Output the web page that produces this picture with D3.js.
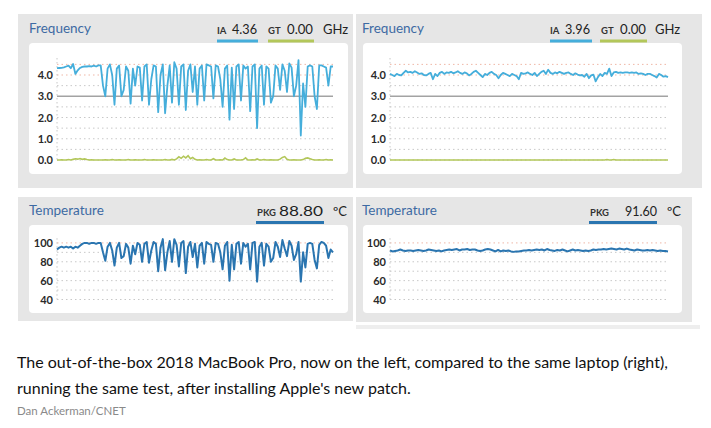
<!DOCTYPE html>
<html><head><meta charset="utf-8">
<script src="https://cdn.jsdelivr.net/npm/d3@7"></script>
<style>
html,body{margin:0;padding:0;background:#fff;}
svg{display:block;font-family:Lato,"Open Sans",sans-serif;}
</style></head><body>
<svg id="c" width="711" height="428"></svg>
<script>
// ---- data ----
const freqTicks = [0, 1, 2, 3, 4];
const freqTickLabels = ["0.0", "1.0", "2.0", "3.0", "4.0"];
const tempTicks = [40, 60, 80, 100];
const tempTickLabels = ["40", "60", "80", "100"];

const beforeIA = [4.32,4.33,4.34,4.36,4.40,4.44,4.32,4.52,4.05,4.22,4.33,4.38,4.40,4.40,4.42,4.40,4.44,4.40,4.45,
4.45,3.5,3.0,4.3,4.5,4.0,2.6,4.3,4.45,3.0,3.3,4.4,4.2,2.65,4.3,3.5,4.4,4.35,2.8,4.4,4.5,2.6,3.8,4.45,4.4,2.25,4.0,4.5,2.2,3.5,4.45,
2.7,4.6,4.3,2.6,4.4,4.5,2.35,4.2,4.5,3.2,4.4,2.6,4.3,4.45,2.8,4.5,4.45,4.4,2.9,4.45,4.4,3.8,2.5,4.3,4.45,1.9,4.35,2.4,4.4,4.5,
2.8,4.45,4.3,4.4,2.3,4.4,4.5,1.5,4.3,4.45,2.6,4.4,4.3,2.7,3.0,4.45,4.3,3.3,4.5,4.2,3.2,4.55,4.35,3.0,3.5,4.7,1.15,3.6,2.5,4.4,
4.45,4.4,3.0,2.4,4.45,4.45,4.4,4.35,3.5,4.4,4.4];
const beforeGT = [0.0,0.0,0.01,0.0,0.0,0.02,0.0,0.03,0.06,0.04,0.07,0.03,0.05,0.02,0.0,0.01,0.0,0.0,0.0,0.0,
0.0,0.01,0.0,0.0,0.02,0.0,0.0,0.01,0.0,0.0,0.0,0.02,0.0,0.0,0.01,0.0,0.0,0.0,0.02,0.0,
0.0,0.0,0.01,0.0,0.0,0.0,0.0,0.02,0.0,0.0,0.03,0.0,0.05,0.15,0.08,0.18,0.1,0.2,0.06,0.12,
0.03,0.0,0.01,0.0,0.0,0.02,0.0,0.0,0.06,0.0,0.0,0.01,0.0,0.09,0.02,0.0,0.0,0.05,0.0,0.0,
0.0,0.02,0.1,0.0,0.0,0.01,0.0,0.05,0.0,0.0,0.02,0.0,0.0,0.01,0.0,0.0,0.0,0.04,0.12,0.16,
0.03,0.0,0.0,0.01,0.0,0.0,0.0,0.02,0.08,0.1,0.06,0.02,0.0,0.0,0.01,0.0,0.0,0.02,0.0,0.01,0.0];
const beforePKG = [93,95,96,95,96,95,96,94,96,95,97,99,100,100,99,100,100,99,100,
100,90,81,96,100,92,76,95,100,84,86,99,95,78,97,88,100,98,80,99,101,79,92,101,99,70,95,104,71,90,102,
80,104,98,75,100,102,68,96,101,85,99,74,97,100,78,101,99,98,80,100,99,90,72,97,101,60,98,72,99,101,
78,100,96,99,72,100,101,59,96,100,76,99,96,80,84,101,96,85,103,94,86,102,97,82,88,101,59,90,74,99,
100,99,82,73,98,101,100,97,84,93,90];

const afterIA = [4.05,4.0,3.95,4.05,4.0,3.98,4.1,4.2,4.12,4.15,4.1,4.18,4.12,4.05,4.08,4.0,3.98,4.05,4.1,3.8,
4.05,3.95,4.1,4.15,4.05,4.12,4.1,4.15,4.08,4.12,4.18,4.1,4.05,4.12,4.08,3.98,4.05,4.15,4.2,4.1,
4.0,3.9,4.05,4.0,4.1,4.15,4.05,4.0,3.85,4.0,4.1,4.05,4.0,3.95,4.05,4.0,3.95,3.8,4.1,4.05,
4.08,4.12,4.05,4.0,4.1,3.95,4.05,4.15,4.2,4.05,4.25,4.1,4.05,4.12,4.08,4.15,4.1,4.05,4.1,4.12,
4.05,4.0,4.08,4.02,3.98,4.0,3.92,4.05,3.85,3.98,4.02,3.7,3.9,4.05,3.95,4.1,4.05,4.3,3.95,4.12,
4.15,4.1,4.12,4.1,4.12,4.12,4.1,4.12,4.1,4.12,4.05,4.08,4.05,4.0,4.05,4.05,4.0,3.95,3.88,4.05,
4.0,3.92,3.95,3.9];
const afterGT = [0,0,0,0,0,0,0,0,0,0,0,0,0,0,0,0,0,0,0,0,0,0,0,0,0,0,0,0,0,0,0,0,0,0,0,0,0,0,0,0,
0,0,0,0,0,0,0,0,0,0,0,0,0,0,0,0,0,0,0,0,0,0,0,0,0,0,0,0,0,0,0,0,0,0,0,0,0,0,0,0,
0,0,0,0,0,0,0,0,0,0,0,0,0,0,0,0,0.02,0,0,0.02,0,0,0,0,0,0,0,0,0,0,0,0,0,0,0,0,0,0,0,0,
0,0,0,0];
const afterPKG = [92,91,91.5,92,93,92,91.5,92,92,91.5,92,92.5,92,91.5,92,93,92.5,92,91.5,92,
91,92,92.5,93,92.5,93,93.5,92,93,93,93.5,92.5,93,93,92,91.5,92,93,93.5,93,
92,91,92.5,91,92,91.5,92,91,90.5,91,91,91.5,92,92,92.5,92,92.5,93,92.5,93,
92,93.5,92.5,92,91.5,92.5,92,93,92,91,92,93,92,92.5,92,91.5,92,91.5,92,93,
92.5,93,93,93.5,93,93.5,94,93.5,93,94,93.5,93,94,93,92.5,92,93,92.5,92,92,
92.5,92,92.5,92,91.5,92,91.5,91.5,91];

const readouts = {
  before: {ia: "4.36", gt: "0.00", pkg: "88.80"},
  after:  {ia: "3.96", gt: "0.00", pkg: "91.60"}
};
const captionLines = [
  "The out-of-the-box 2018 MacBook Pro, now on the left, compared to the same laptop (right),",
  "running the same test, after installing Apple's new patch."
];
const credit = "Dan Ackerman/CNET";

// ---- drawing ----
const svg = d3.select("#c");
const C = {
  panel: "#e6e6e6", title: "#3d6aa3", ia: "#45aedb", gt: "#b3c75a",
  pkg: "#2a75b0", grid: "#c8c8c8", gridHi: "#efb7a6", axisText: "#2a2a2a"
};

function panelBg(x0, y0, w, h, ix0, iy0, iw, ih) {
  svg.append("rect").attr("x", x0).attr("y", y0).attr("width", w).attr("height", h).attr("fill", C.panel);
  svg.append("rect").attr("x", ix0).attr("y", iy0).attr("width", iw).attr("height", ih)
    .attr("rx", 4).attr("fill", "#fff");
}

function styleAxis(ag) {
  ag.select(".domain").remove();
  ag.selectAll("text").attr("font-size", 11).attr("font-weight", 700)
    .attr("fill", C.axisText).attr("font-family", "Lato,sans-serif");
}

function freqPanel(px, ax, xEnd, ia, gt) {
  const g = svg.append("g");
  g.append("text").attr("x", px + 11).attr("y", 33).attr("font-size", 13.5)
    .attr("fill", C.title).text("Frequency");
  const y = d3.scaleLinear().domain([0, 4.8]).range([160, 58]);
  const x1 = d3.scaleLinear().domain([0, ia.length - 1]).range([ax, xEnd]);
  const x2 = d3.scaleLinear().domain([0, gt.length - 1]).range([ax, xEnd]);
  const gl = [0, 0.5, 1, 1.5, 2, 2.5, 3.5, 4, 4.5];
  g.selectAll(".gl").data(gl).enter().append("line")
    .attr("x1", ax).attr("x2", xEnd).attr("y1", d => y(d)).attr("y2", d => y(d))
    .attr("stroke", d => d >= 4 ? C.gridHi : C.grid).attr("stroke-width", 1)
    .attr("stroke-dasharray", "1.5,3");
  g.append("line").attr("x1", ax).attr("x2", ax).attr("y1", y(4.8)).attr("y2", y(0))
    .attr("stroke", C.grid).attr("stroke-dasharray", "1.5,2.5");
  g.append("line").attr("x1", ax).attr("x2", xEnd).attr("y1", y(3)).attr("y2", y(3))
    .attr("stroke", "#a3a3a3").attr("stroke-width", 1.6);
  const axis = d3.axisLeft(y).tickValues(freqTicks).tickFormat((d, i) => freqTickLabels[i])
    .tickSize(0).tickPadding(4);
  styleAxis(g.append("g").attr("transform", `translate(${ax},0)`).call(axis));
  g.append("path").datum(gt).attr("fill", "none").attr("stroke", C.gt).attr("stroke-width", 1.6)
    .attr("d", d3.line().x((d, i) => x2(i)).y(d => y(d)));
  g.append("path").datum(ia).attr("fill", "none").attr("stroke", C.ia).attr("stroke-width", 1.8)
    .attr("stroke-linejoin", "round")
    .attr("d", d3.line().x((d, i) => x1(i)).y(d => y(d)));
  return g;
}

// label text, value text, underline bar
function readout(g, lx, vx, vw, val, col, bx, bw, yb, barY, unitX, unit) {
  g.append("text").attr("x", lx.x).attr("y", yb).attr("font-size", 9.5).attr("font-weight", 700)
    .attr("fill", "#333").text(lx.t);
  g.append("text").attr("x", vx).attr("y", yb).attr("font-size", 14).attr("fill", "#222")
    .attr("textLength", vw).attr("lengthAdjust", "spacingAndGlyphs").text(val);
  g.append("rect").attr("x", bx).attr("y", barY).attr("width", bw).attr("height", 3).attr("fill", col);
  if (unit) g.append("text").attr("x", unitX).attr("y", yb).attr("font-size", 13).attr("fill", "#222").text(unit);
}

function tempPanel(px, ax, xEnd, pkg) {
  const g = svg.append("g");
  g.append("text").attr("x", px + 11).attr("y", 215).attr("font-size", 13.5)
    .attr("fill", C.title).text("Temperature");
  const y = d3.scaleLinear().domain([40, 105]).range([299.5, 238.2]);
  const x = d3.scaleLinear().domain([0, pkg.length - 1]).range([ax, xEnd]);
  const gl = [40, 50, 60, 70, 80, 90, 100];
  g.selectAll(".gl").data(gl).enter().append("line")
    .attr("x1", ax).attr("x2", xEnd).attr("y1", d => y(d)).attr("y2", d => y(d))
    .attr("stroke", d => d === 100 ? C.gridHi : C.grid).attr("stroke-dasharray", "1.5,3");
  g.append("line").attr("x1", ax).attr("x2", ax).attr("y1", y(105)).attr("y2", y(40))
    .attr("stroke", C.grid).attr("stroke-dasharray", "1.5,2.5");
  const axis = d3.axisLeft(y).tickValues(tempTicks).tickFormat((d, i) => tempTickLabels[i])
    .tickSize(0).tickPadding(4);
  styleAxis(g.append("g").attr("transform", `translate(${ax},0)`).call(axis));
  g.append("path").datum(pkg).attr("fill", "none").attr("stroke", C.pkg).attr("stroke-width", 2)
    .attr("stroke-linejoin", "round")
    .attr("d", d3.line().x((d, i) => x(i)).y(d => y(d)));
  return g;
}

// backgrounds
panelBg(18, 14, 335, 174, 29, 43, 319, 131);
panelBg(356, 14, 346, 174, 363, 43, 319, 131);
panelBg(18, 197, 335, 124, 29, 225, 319, 88);
panelBg(356, 197, 336, 125, 363, 225, 319, 88);
svg.append("rect").attr("x", 356).attr("y", 325).attr("width", 344).attr("height", 4).attr("fill", "#eeeeee");

// frequency panels
const fL = freqPanel(18, 57, 333, beforeIA, beforeGT);
readout(fL, {x: 217, t: "IA"}, 232, 25, readouts.before.ia, C.ia, 217, 41, 34, 39.5);
readout(fL, {x: 268, t: "GT"}, 287, 26, readouts.before.gt, C.gt, 268, 46, 34, 39.5, 323, "GHz");

const fR = freqPanel(351, 390, 668, afterIA, afterGT);
readout(fR, {x: 550, t: "IA"}, 565, 25, readouts.after.ia, C.ia, 550, 42, 34, 39.5);
readout(fR, {x: 601, t: "GT"}, 620, 26, readouts.after.gt, C.gt, 600, 47, 34, 39.5, 655, "GHz");

// temperature panels
const tL = tempPanel(18, 57, 333, beforePKG);
readout(tL, {x: 257, t: "PKG"}, 279, 44, readouts.before.pkg, C.pkg, 256, 68, 216, 221, 333, "ºC");
const tR = tempPanel(351, 390, 668, afterPKG);
readout(tR, {x: 590, t: "PKG"}, 625, 32, readouts.after.pkg, C.pkg, 589, 68, 216, 221, 667, "ºC");

// caption
svg.selectAll(".cap").data(captionLines).enter().append("text")
  .attr("x", 17).attr("y", (d, i) => 368 + i * 26)
  .attr("font-size", 16).attr("fill", "#111").attr("font-family", "Lato,sans-serif")
  .text(d => d);
svg.append("text").attr("x", 17).attr("y", 415).attr("font-size", 11.5).attr("fill", "#8a8a8a")
  .attr("font-family", "Lato,sans-serif").text(credit);
</script>
</body></html>
